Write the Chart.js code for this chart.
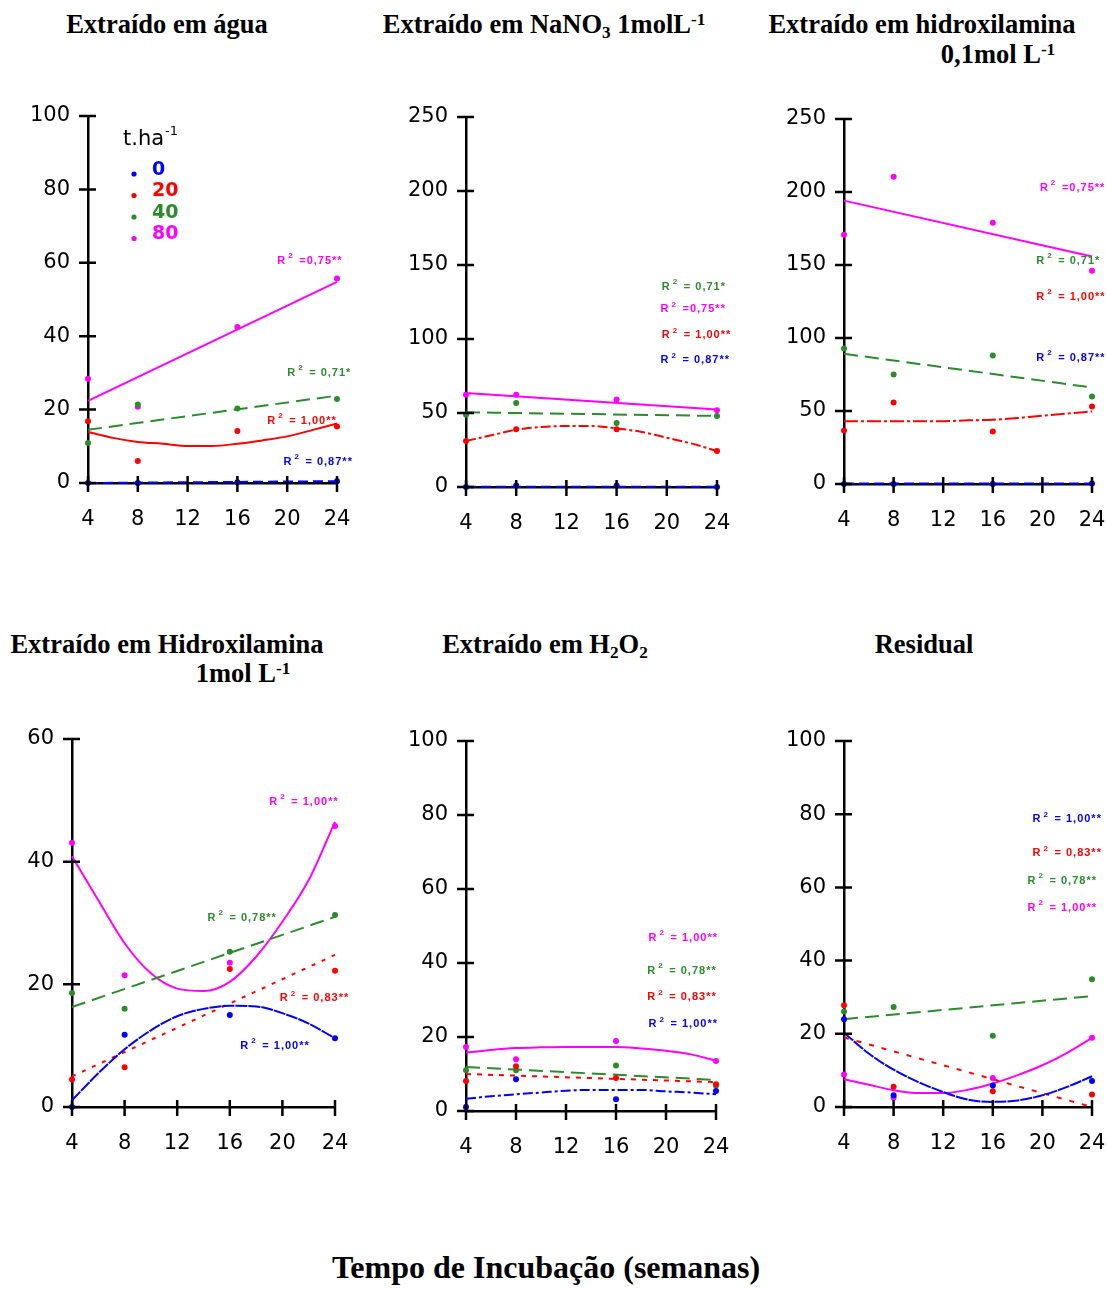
<!DOCTYPE html>
<html>
<head>
<meta charset="utf-8">
<script src="https://cdn.jsdelivr.net/npm/chart.js@4/dist/chart.umd.min.js"></script>
<style>
body { margin: 0; background: #fff; width: 1107px; height: 1289px; position: relative; overflow: hidden; }
canvas { position: absolute; }
.tit { position: absolute; font-family: "Liberation Serif", "Times New Roman", serif; font-weight: bold; font-size: 26.5px; line-height: 1; white-space: nowrap; transform: translateX(-50%); color: #000; }
.sub { font-size: 0.65em; position: relative; top: 0.3em; }
.sup { font-size: 0.65em; position: relative; top: -0.45em; }
</style>
</head>
<body>
<div class="tit" style="left:167px;top:11px">Extraído em água</div>
<div class="tit" style="left:544px;top:11px">Extraído em NaNO<span class="sub">3</span> 1molL<span class="sup">-1</span></div>
<div class="tit" style="left:922px;top:11px">Extraído em hidroxilamina</div>
<div class="tit" style="left:998px;top:41px">0,1mol L<span class="sup">-1</span></div>
<div class="tit" style="left:167px;top:631px">Extraído em Hidroxilamina</div>
<div class="tit" style="left:243px;top:660px">1mol L<span class="sup">-1</span></div>
<div class="tit" style="left:545px;top:631px">Extraído em H<span class="sub">2</span>O<span class="sub">2</span></div>
<div class="tit" style="left:924px;top:631px">Residual</div>
<div class="tit" style="left:546px;top:1251px;font-size:32px">Tempo de Incubação (semanas)</div>

<canvas id="c1" width="370" height="450" style="left:0px;top:95px"></canvas>
<canvas id="c2" width="370" height="450" style="left:370px;top:95px"></canvas>
<canvas id="c3" width="367" height="450" style="left:740px;top:95px"></canvas>
<canvas id="c4" width="370" height="450" style="left:0px;top:715px"></canvas>
<canvas id="c5" width="370" height="450" style="left:370px;top:715px"></canvas>
<canvas id="c6" width="367" height="450" style="left:740px;top:715px"></canvas>

<script>
// semanas de incubação e doses (t.ha-1)
let semanas = [4, 8, 16, 24];
let linX = [4, 24];
let curvaX = [4, 6, 8, 10, 12, 14, 16, 18, 20, 22, 24];
let doses = ['0', '20', '40', '80'];
let cores = ['#0000ff', '#ff0000', '#2a8c2a', '#ff00ff'];

// pontos observados, uma lista por dose (0, 20, 40, 80)
let aguaPontos = [[0, 0, 0.2, 0.5], [16.8, 6.0, 14.2, 15.4], [10.9, 21.4, 20.3, 22.9], [28.4, 20.8, 42.5, 55.7]];
let nitratoPontos = [[0, 1, 1, 0], [31, 39, 39, 24.3], [48.9, 56.8, 43.2, 48], [62.3, 62.3, 59.2, 51.8]];
let hidrox01Pontos = [[0, 0, 0, 0.3], [36.7, 55.9, 36, 53.1], [92.8, 75, 88, 60], [170.8, 210.5, 179, 146]];
let hidrox1Pontos = [[0, 11.8, 15, 11.2], [4.5, 6.5, 22.5, 22.2], [18.6, 16, 25.3, 31.3], [43.1, 21.5, 23.5, 45.8]];
let peroxPontos = [[1.1, 8.6, 3.2, 5.4], [8.1, 12.1, 8.9, 7.2], [11, 11, 12.3, 6.9], [17.3, 14, 18.9, 13.5]];
let residualPontos = [[24, 3.2, 5.9, 7.1], [27.8, 5.5, 4.3, 3.4], [26.1, 27.3, 19.5, 34.9], [8.9, 2.5, 7.9, 18.9]];

// curvas ajustadas (2 valores = reta em 4 e 24; 11 valores = curva de 4 a 24)
let aguaAjustes = [[0, 0.5], [13.9, 12.3, 11.2, 10.7, 10.1, 10.1, 10.7, 11.6, 12.7, 14.4, 16.2], [14.5, 23.8], [22.4, 54.8]];
let nitratoAjustes = [[0.2, 0.2], [31.1, 34.9, 38.7, 40.5, 41.2, 41.2, 39.6, 37.2, 33.3, 29.3, 24.3], [50.5, 48], [63.5, 52.3]];
let hidrox01Ajustes = [[0.3, 0.3], [43, 43, 43, 43, 43, 43.6, 44, 45.2, 46.8, 48.2, 49.7], [89.2, 66.1], [194.1, 155.8]];
let hidrox1Ajustes = [[1.1, 5.5, 9.4, 12.5, 14.8, 16.0, 16.5, 16.4, 15.3, 13.6, 11.2], [5, 24.8], [16.3, 31], [40.9, 33.7, 26.7, 21.8, 19.3, 18.9, 20.4, 24.5, 30.2, 37, 46.5]];
let peroxAjustes = [[3.3, 4.0, 4.5, 5.0, 5.5, 5.7, 5.7, 5.7, 5.3, 5.0, 4.5], [10, 7.8], [11.9, 8.4], [15.8, 16.5, 17.0, 17.2, 17.3, 17.3, 17.3, 16.9, 16.3, 15.3, 13.6]];
let residualAjustes = [[20.3, 14.6, 10.2, 6.8, 4.1, 2.0, 1.4, 1.8, 3.2, 5.5, 8.4], [19, 0], [24, 30.3], [7.6, 6.1, 4.6, 3.8, 3.8, 4.7, 6.4, 8.7, 11.4, 14.8, 18.9]];

// coeficientes de determinação
let aguaR2 = [' = 0,87**', ' = 1,00**', ' = 0,71*', ' =0,75**'];
let nitratoR2 = [' = 0,87**', ' = 1,00**', ' = 0,71*', ' =0,75**'];
let hidrox01R2 = [' = 0,87**', ' = 1,00**', ' = 0,71*', ' =0,75**'];
let hidrox1R2 = [' = 1,00**', ' = 0,83**', ' = 0,78**', ' = 1,00**'];
let peroxR2 = [' = 1,00**', ' = 0,83**', ' = 0,78**', ' = 1,00**'];
let residualR2 = [' = 1,00**', ' = 0,83**', ' = 0,78**', ' = 1,00**'];

const fonteEixo = { family: 'DejaVu Sans', size: 21 };
const fonteR2 = '"Liberation Sans", Arial, sans-serif';

let eixos = {
    id: 'eixos',
    afterDraw(chart) {
        let ctx = chart.ctx, a = chart.chartArea;
        let sx = chart.scales.x, sy = chart.scales.y;
        let op = chart.options.plugins.eixos;
        ctx.save();
        ctx.strokeStyle = '#000';
        ctx.lineWidth = 2.5;
        ctx.beginPath();
        sx.ticks.forEach(t => {
            let p = sx.getPixelForValue(t.value);
            ctx.moveTo(p, a.bottom - 7);
            ctx.lineTo(p, a.bottom + 9);
        });
        sy.ticks.forEach(t => {
            let p = sy.getPixelForValue(t.value);
            ctx.moveTo(a.left - 9, p);
            ctx.lineTo(a.left + 8, p);
        });
        ctx.stroke();

        // rótulos de R²
        ctx.textBaseline = 'middle';
        ctx.letterSpacing = '1px';
        op.rotulos.forEach((r, i) => {
            let x = sx.getPixelForValue(r[0]), y = sy.getPixelForValue(r[1]);
            ctx.fillStyle = cores[i];
            ctx.font = 'bold 11px ' + fonteR2;
            ctx.fillText('R', x, y);
            let w = ctx.measureText('R').width;
            ctx.font = 'bold 8px ' + fonteR2;
            ctx.fillText('2', x + w + 2, y - 5);
            ctx.font = 'bold 11px ' + fonteR2;
            ctx.fillText(op.r2[i], x + w + 9, y);
        });
        ctx.letterSpacing = '0px';

        if (op.legenda) {
            let lx = a.left + 35, ly = a.top + 24;
            ctx.fillStyle = '#000';
            ctx.font = '21px "DejaVu Sans"';
            ctx.fillText('t.ha', lx, ly);
            let w = ctx.measureText('t.ha').width;
            ctx.font = '13px "DejaVu Sans"';
            ctx.fillText('-1', lx + w + 1, ly - 8);
            chart.data.datasets.filter(d => !d.showLine).forEach((d, i) => {
                let y = ly + 30 + i * 21.5;
                ctx.fillStyle = d.backgroundColor;
                ctx.beginPath();
                ctx.arc(a.left + 46, y + 4, 2.6, 0, Math.PI * 2);
                ctx.fill();
                ctx.font = 'bold 19px "DejaVu Sans"';
                ctx.fillText(d.label, a.left + 64, y);
            });
        }
        ctx.restore();
    }
};

function montar(id, pontos, ajustes, r2, cfg) {
    let datasets = [];
    pontos.forEach((serie, i) => {
        datasets.push({
            label: doses[i],
            data: semanas.map((s, k) => ({ x: s, y: serie[k] })),
            backgroundColor: cores[i],
            borderColor: cores[i],
            pointRadius: 3,
            pointBorderWidth: 0,
            showLine: false,
            clip: false
        });
    });
    ajustes.forEach((serie, i) => {
        let xs = serie.length === 2 ? linX : curvaX;
        datasets.push({
            label: doses[i] + ' ajuste',
            data: xs.map((s, k) => ({ x: s, y: serie[k] })),
            borderColor: cores[i],
            borderWidth: 2,
            borderDash: cfg.tracos[i],
            pointRadius: 0,
            showLine: true,
            cubicInterpolationMode: 'monotone',
            clip: false
        });
    });

    new Chart(document.getElementById(id), {
        type: 'scatter',
        data: { datasets: datasets },
        options: {
            responsive: false,
            animation: false,
            devicePixelRatio: 1,
            layout: { padding: { top: cfg.pt, right: cfg.pr, left: 0, bottom: 0 } },
            plugins: {
                legend: { display: false },
                tooltip: { enabled: false },
                eixos: { rotulos: cfg.rotulos, r2: r2, legenda: cfg.legenda || false }
            },
            scales: {
                x: {
                    type: 'linear', min: 4, max: 24,
                    ticks: { stepSize: 4, padding: 24, color: '#000', font: fonteEixo },
                    grid: { display: false, drawTicks: false },
                    border: { display: true, color: '#000', width: 2.5 },
                    afterFit: s => { s.height = cfg.xh; s.paddingLeft = 0; s.paddingRight = 0; }
                },
                y: {
                    type: 'linear', min: 0, max: cfg.ymax,
                    ticks: { stepSize: cfg.ystep, padding: 18, color: '#000', font: fonteEixo },
                    grid: { display: false, drawTicks: false },
                    border: { display: true, color: '#000', width: 2.5 },
                    afterFit: s => { s.width = cfg.yw; s.paddingTop = 0; s.paddingBottom = 0; }
                }
            }
        },
        plugins: [eixos]
    });
}

let tracejado = [10, 5], longo = [14, 7], ponto = [4, 7], tracoPonto = [10, 3, 3, 3];

montar('c1', aguaPontos, aguaAjustes, aguaR2, {
    ymax: 100, ystep: 20, yw: 88, pr: 33, pt: 21, xh: 62, legenda: true,
    tracos: [tracejado, [], longo, []],
    rotulos: [[19.7, 5.7], [18.4, 16.9], [20, 30], [19.2, 60.5]]
});
montar('c2', nitratoPontos, nitratoAjustes, nitratoR2, {
    ymax: 250, ystep: 50, yw: 96, pr: 23, pt: 22, xh: 58,
    tracos: [tracejado, tracoPonto, longo, []],
    rotulos: [[19.5, 85.6], [19.6, 102.5], [19.6, 135], [19.5, 120]]
});
montar('c3', hidrox01Pontos, hidrox01Ajustes, hidrox01R2, {
    ymax: 250, ystep: 50, yw: 104, pr: 15, pt: 24, xh: 61,
    tracos: [tracejado, [14, 3, 3, 3], longo, []],
    rotulos: [[19.5, 86.5], [19.5, 128.2], [19.5, 152.8], [19.8, 202.8]]
});
montar('c4', hidrox1Pontos, hidrox1Ajustes, hidrox1R2, {
    ymax: 60, ystep: 20, yw: 72, pr: 35, pt: 24, xh: 58,
    tracos: [[12, 1], ponto, longo, []],
    rotulos: [[16.8, 9.9], [19.8, 17.7], [14.3, 30.9], [19, 49.7]]
});
montar('c5', peroxPontos, peroxAjustes, peroxR2, {
    ymax: 100, ystep: 20, yw: 96, pr: 24, pt: 26, xh: 54,
    tracos: [tracoPonto, [5, 6], longo, []],
    rotulos: [[18.6, 23.4], [18.5, 30.7], [18.5, 37.8], [18.6, 46.9]]
});
montar('c6', residualPontos, residualAjustes, residualR2, {
    ymax: 100, ystep: 20, yw: 104, pr: 15, pt: 26, xh: 58,
    tracos: [[12, 1], [5, 8], longo, []],
    rotulos: [[19.2, 78.6], [19.2, 69.3], [18.8, 61.7], [18.8, 54.3]]
});
</script>
</body>
</html>
